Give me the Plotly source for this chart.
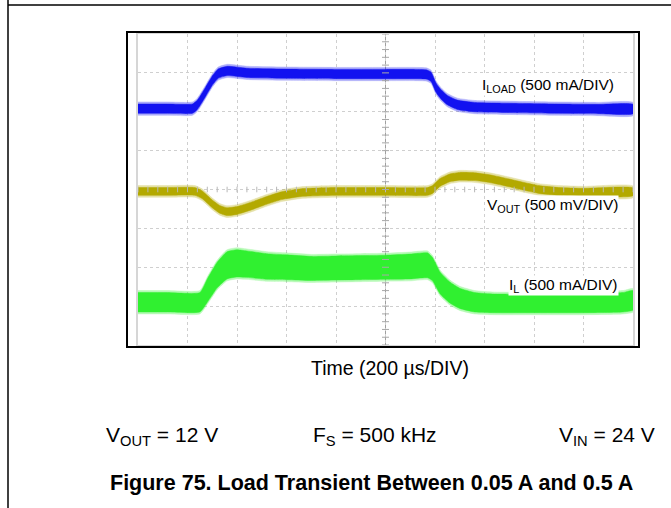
import numpy as np
import plotly.graph_objects as go

# ---- data (time in divisions of 200 us, amplitude in screen divisions) ----
t_iload = [0, 0.6, 1.1, 1.2, 1.35, 1.5, 1.62, 1.8, 2.2, 3.0, 4.0, 5.0, 5.6, 5.82, 5.92, 6.02, 6.12, 6.25, 6.45, 6.8, 7.5, 8.5, 9.3, 10]
iload = [6.08, 6.08, 6.08, 6.18, 6.48, 6.8, 6.98, 7.05, 7.0, 6.98, 6.97, 6.97, 6.97, 6.96, 6.9, 6.62, 6.45, 6.3, 6.18, 6.12, 6.1, 6.08, 6.07, 6.07]
iload_ripple = 0.12

t_vout = [0, 0.6, 1.15, 1.3, 1.5, 1.65, 1.8, 2.0, 2.3, 2.6, 2.9, 3.3, 4.0, 5.0, 5.85, 5.95, 6.1, 6.3, 6.5, 6.8, 7.1, 7.5, 7.8, 8.1, 8.5, 9.0, 10]
vout = [3.95, 3.95, 3.95, 3.86, 3.63, 3.49, 3.43, 3.46, 3.58, 3.72, 3.84, 3.92, 3.95, 3.95, 3.95, 4.0, 4.18, 4.3, 4.34, 4.33, 4.28, 4.17, 4.08, 4.0, 3.95, 3.93, 3.94]
vout_ripple = 0.1

t_il = [0, 0.6, 1.25, 1.4, 1.6, 1.8, 2.0, 2.2, 2.6, 3.0, 3.5, 4.0, 4.5, 5.0, 5.5, 5.85, 5.95, 6.1, 6.3, 6.5, 6.8, 7.2, 8.0, 9.0, 9.8, 10]
il = [1.1, 1.1, 1.1, 1.4, 1.8, 2.05, 2.1, 2.08, 2.02, 2.0, 1.97, 1.98, 1.99, 2.0, 2.02, 2.05, 1.95, 1.6, 1.35, 1.2, 1.1, 1.07, 1.07, 1.08, 1.1, 1.15]
il_ripple = [0.25, 0.25, 0.25, 0.3, 0.33, 0.35, 0.35, 0.34, 0.33, 0.32, 0.31, 0.31, 0.31, 0.31, 0.32, 0.32, 0.3, 0.28, 0.27, 0.26, 0.25, 0.24, 0.24, 0.25, 0.25, 0.25]

trigger_level = 6.55
trigger_pos = 1.37

label_iload = "I<sub>LOAD</sub> (500 mA/DIV)"
label_vout = "V<sub>OUT</sub> (500 mV/DIV)"
label_il = "I<sub>L</sub> (500 mA/DIV)"
x_title = "Time (200 µs/DIV)"
cond_vout = "V<sub>OUT</sub> = 12 V"
cond_fs = "F<sub>S</sub> = 500 kHz"
cond_vin = "V<sub>IN</sub> = 24 V"
caption = "Figure 75. Load Transient Between 0.05 A and 0.5 A"

FONT = "Liberation Sans, Arial, sans-serif"
W, H = 671, 508

def px(x):
    return x / W

def py(y):
    return (H - y) / H

fig = go.Figure()

def band(t, c, r, color, name):
    t = np.asarray(t, float)
    c = np.asarray(c, float)
    r = np.broadcast_to(np.asarray(r, float), c.shape)
    for extra, op in ((0.05, 0.35), (0.0, 1.0)):
        xs = np.concatenate([t, t[::-1]])
        ys = np.concatenate([c + r + extra, (c - r - extra)[::-1]])
        fig.add_trace(go.Scatter(
            x=xs, y=ys, mode="lines", fill="toself", fillcolor=color,
            line=dict(color=color, width=0.5, shape="spline", smoothing=0.5),
            opacity=op, hoverinfo="skip", showlegend=False, name=name))

band(t_iload, iload, iload_ripple, "#1212f0", "ILOAD")
band(t_vout, vout, vout_ripple, "#b3a900", "VOUT")
band(t_il, il, il_ripple, "#30f030", "IL")

# centre graticule ticks
tick_x = np.arange(0, 10.001, 0.2)
tick_y = np.arange(0, 8.001, 0.2)
fig.add_trace(go.Scatter(x=tick_x, y=np.full_like(tick_x, 4.0), mode="markers",
                         marker=dict(symbol="line-ns", size=4, line=dict(color="#b8b8b8", width=1)),
                         hoverinfo="skip", showlegend=False))
fig.add_trace(go.Scatter(x=np.full_like(tick_y, 5.0), y=tick_y, mode="markers",
                         marker=dict(symbol="line-ew", size=5, line=dict(color="#a8a8a8", width=1)),
                         hoverinfo="skip", showlegend=False))
# trigger markers
fig.add_trace(go.Scatter(x=[10.12], y=[trigger_level], mode="markers", cliponaxis=False,
                         marker=dict(symbol="triangle-left", size=7, color="#1414e6"),
                         hoverinfo="skip", showlegend=False))
fig.add_trace(go.Scatter(x=[trigger_pos], y=[-0.02], mode="markers", cliponaxis=False,
                         marker=dict(symbol="triangle-up", size=4, color="#6a6aff"),
                         hoverinfo="skip", showlegend=False))

grid = dict(showgrid=True, gridcolor="#cfcfcf", griddash="dot", gridwidth=1,
            showline=True, linecolor="#d6d6d6", linewidth=1.5, mirror=True,
            showticklabels=False, ticks="", zeroline=False, fixedrange=True)
fig.update_xaxes(range=[0, 10], dtick=1, domain=[px(138), px(633)], **grid)
fig.update_yaxes(range=[0, 8], dtick=1, domain=[py(345), py(34)], **grid)

shapes = [
    dict(type="line", xref="x", yref="y", x0=5, x1=5, y0=0, y1=8, line=dict(color="#a0a0a0", width=1), layer="below"),
    dict(type="line", xref="x", yref="y", x0=0, x1=10, y0=4, y1=4, line=dict(color="#c0c0c0", width=1, dash="dot"), layer="below"),
    dict(type="rect", xref="paper", yref="paper", x0=px(127), x1=px(639), y0=py(347), y1=py(32),
         line=dict(color="black", width=2)),
    dict(type="line", xref="paper", yref="paper", x0=px(8), x1=px(8), y0=0, y1=1, line=dict(color="black", width=1.5)),
    dict(type="line", xref="paper", yref="paper", x0=px(8), x1=1, y0=py(5), y1=py(5), line=dict(color="black", width=1.5)),
]

ann = []
for text, x, y in ((label_iload, 9.64, 6.68), (label_vout, 9.72, 3.6), (label_il, 9.72, 1.54)):
    ann.append(dict(text=text, x=x, y=y, xref="x", yref="y", xanchor="right", yanchor="middle",
                    showarrow=False, bgcolor="white", borderpad=0,
                    font=dict(family=FONT, size=15.5, color="black")))
for text, y, col in (("C3", 6.1, "#3a3ad0"), ("C1", 3.97, "#a59c10"), ("C4", 1.12, "#30c030")):
    ann.append(dict(text=text, x=-0.12, y=y, xref="x", yref="y", showarrow=False, textangle=-90,
                    font=dict(family=FONT, size=6, color=col)))
ann.append(dict(text=x_title, x=px(390), y=py(368), xref="paper", yref="paper", showarrow=False,
                xanchor="center", yanchor="middle", font=dict(family=FONT, size=19.5, color="black")))
ann.append(dict(text=cond_vout, x=px(104), y=py(436), xref="paper", yref="paper", showarrow=False,
                xanchor="left", yanchor="middle", font=dict(family=FONT, size=21, color="black")))
ann.append(dict(text=cond_fs, x=px(375), y=py(436), xref="paper", yref="paper", showarrow=False,
                xanchor="center", yanchor="middle", font=dict(family=FONT, size=21, color="black")))
ann.append(dict(text=cond_vin, x=px(657), y=py(436), xref="paper", yref="paper", showarrow=False,
                xanchor="right", yanchor="middle", font=dict(family=FONT, size=21, color="black")))
ann.append(dict(text="<b>" + caption + "</b>", x=px(371), y=py(483), xref="paper", yref="paper",
                showarrow=False, xanchor="center", yanchor="middle",
                font=dict(family=FONT, size=21.5, color="black")))

fig.update_layout(width=W, height=H, margin=dict(l=0, r=0, t=0, b=0),
                  paper_bgcolor="white", plot_bgcolor="white",
                  shapes=shapes, annotations=ann, showlegend=False)

fig.write_html("out.html", config=dict(displayModeBar=False),
               post_script="document.body.style.margin='0';document.body.style.overflow='hidden';")
